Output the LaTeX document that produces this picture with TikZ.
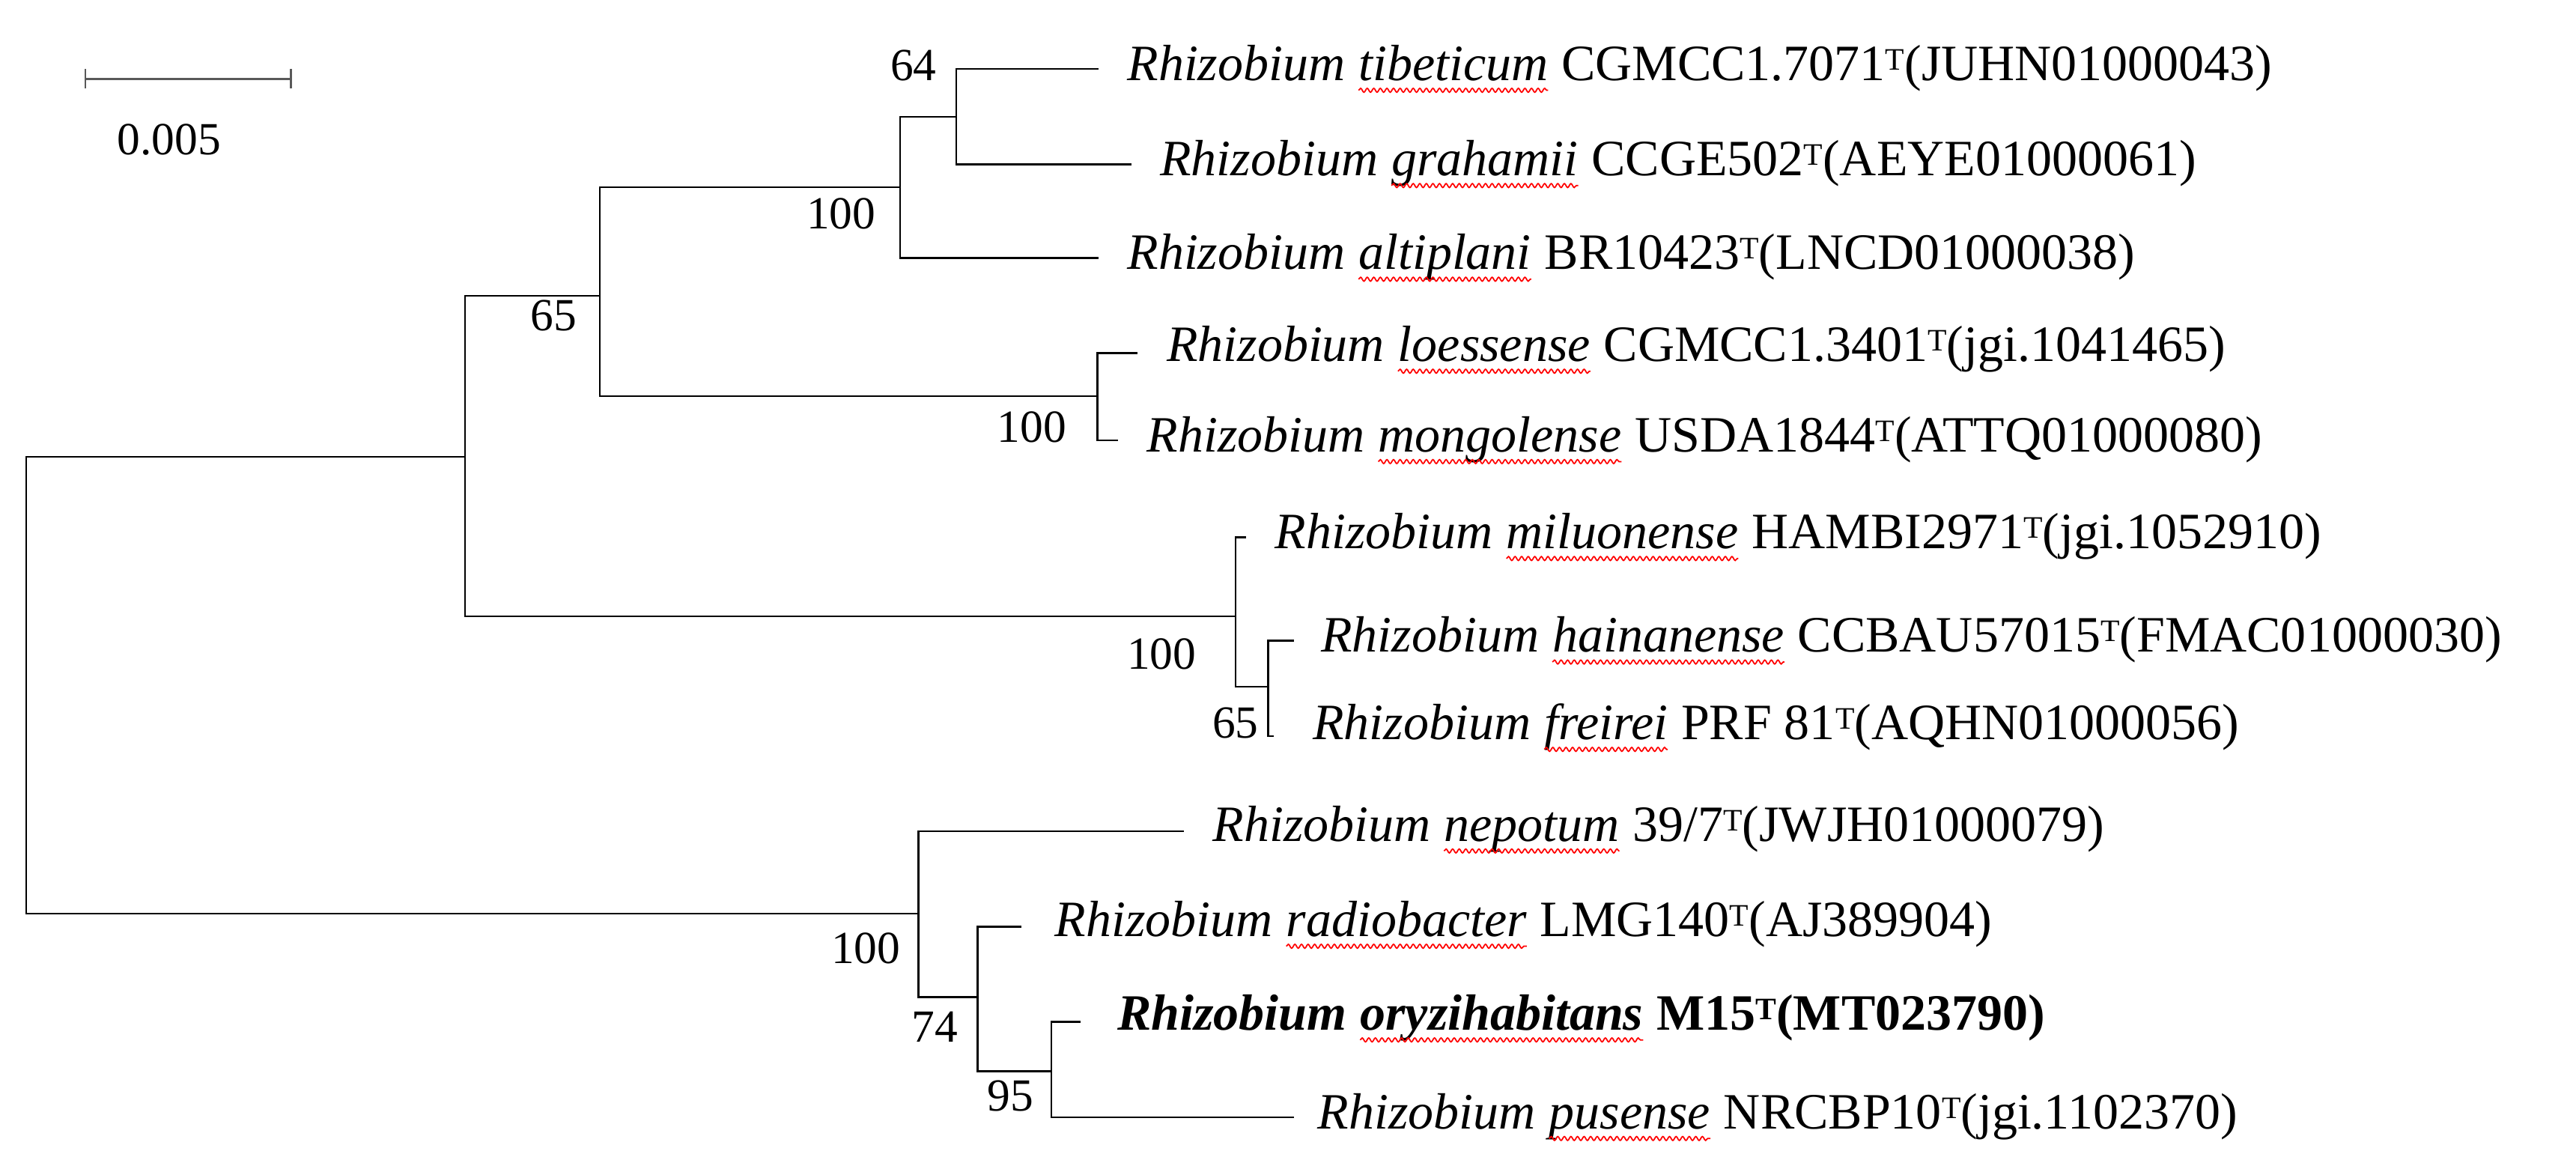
\documentclass[tikz,border=0pt]{standalone}
\usepackage{fontspec}
\setmainfont{Liberation Serif}
\usetikzlibrary{decorations.pathmorphing}
\newcommand\wv[1]{\tikz[baseline=(w.base)]{\node[inner sep=0pt,outer sep=0pt,anchor=base](w){#1};\draw[red,line width=0.8pt,decorate,decoration={snake,amplitude=1.2pt,segment length=4pt}]([yshift=-6pt]w.base west)--([yshift=-6pt]w.base east);}}
\newcommand\spc[3]{\textit{Rhizobium \wv{#1}} #2\raisebox{0.45ex}{\fontsize{19}{20}\selectfont T}(#3)}
\tikzset{br/.style={line width=1.1pt,line cap=rect},
 lf/.style={anchor=west,inner sep=0pt,font=\fontsize{31}{33}\selectfont},
 bs/.style={inner sep=0pt,font=\fontsize{28}{30}\selectfont}}
\begin{document}
\begin{tikzpicture}[x=1pt,y=-1pt]
\useasboundingbox (0,0) rectangle (1568,704);
\coordinate (R) at (16,556);
\coordinate (A) at (283,278);
\coordinate (B) at (365,180);
\coordinate (C) at (548,114);
\coordinate (D) at (582,71);
\coordinate (E) at (668,241);
\coordinate (F) at (752,375);
\coordinate (G) at (772,418);
\coordinate (H) at (559,556);
\coordinate (I) at (595,607);
\coordinate (J) at (640,652);
\coordinate (l1) at (668,42);
\coordinate (l2) at (688,100);
\coordinate (l3) at (668,157);
\coordinate (l4) at (692,215);
\coordinate (l5) at (680,268);
\coordinate (l6) at (758,327);
\coordinate (l7) at (787,390);
\coordinate (l8) at (775,448);
\coordinate (l9) at (720,506);
\coordinate (l10) at (621,564);
\coordinate (l11) at (657,622);
\coordinate (l12) at (787,680);
\draw[br] (A) -- (R|-A) -- (R) -- (H);
\draw[br] (B) -- (A|-B) -- (A|-F) -- (F);
\draw[br] (B) -- (B|-C) -- (C) (B) -- (B|-E) -- (E);
\draw[br] (C|-D) -- (C|-l3) -- (l3) (C|-D) -- (D);
\draw[br] (D|-l1) -- (l1) (D|-l1) -- (D|-l2) -- (l2);
\draw[br] (E|-l4) -- (l4) (E|-l4) -- (E|-l5) -- (l5);
\draw[br] (F) -- (F|-l6) -- (l6) (F) -- (F|-G) -- (G);
\draw[br] (G|-l7) -- (l7) (G|-l7) -- (G|-l8) -- (l8);
\draw[br] (H|-l9) -- (l9) (H|-l9) -- (H|-I) -- (I);
\draw[br] (I|-l10) -- (l10) (I|-l10) -- (I|-J) -- (J);
\draw[br] (J|-l11) -- (l11) (J|-l11) -- (J|-l12) -- (l12);
\node[lf] (t1) at (686,42) {\spc{tibeticum}{CGMCC1.7071}{JUHN01000043}};
\node[lf] (t2) at (706,100) {\spc{grahamii}{CCGE502}{AEYE01000061}};
\node[lf] (t3) at (686,157) {\spc{altiplani}{BR10423}{LNCD01000038}};
\node[lf] (t4) at (710,213) {\spc{loessense}{CGMCC1.3401}{jgi.1041465}};
\node[lf] (t5) at (698,268) {\spc{mongolense}{USDA1844}{ATTQ01000080}};
\node[lf] (t6) at (776,327) {\spc{miluonense}{HAMBI2971}{jgi.1052910}};
\node[lf] (t7) at (804,390) {\spc{hainanense}{CCBAU57015}{FMAC01000030}};
\node[lf] (t8) at (799,443) {\spc{freirei}{PRF 81}{AQHN01000056}};
\node[lf] (t9) at (738,505) {\spc{nepotum}{39/7}{JWJH01000079}};
\node[lf] (t10) at (642,563) {\spc{radiobacter}{LMG140}{AJ389904}};
\node[lf] (t11) at (680,620) {\bfseries\spc{oryzihabitans}{M15}{MT023790}};
\node[lf] (t12) at (802,680) {\spc{pusense}{NRCBP10}{jgi.1102370}};
\node[bs] (b1) at (556,40) {64};
\node[bs] (b2) at (512,130) {100};
\node[bs] (b3) at (337,192) {65};
\node[bs] (b4) at (628,260) {100};
\node[bs] (b5) at (707,398) {100};
\node[bs] (b6) at (752,440) {65};
\node[bs] (b7) at (527,577) {100};
\node[bs] (b8) at (569,625) {74};
\node[bs] (b9) at (615,667) {95};
\coordinate (s1) at (52,48);
\coordinate (s2) at (177,48);
\draw[line width=1.1pt,gray!70!black] (s1) -- (s2) ([yshift=-6pt]s1) -- ([yshift=6pt]s1) ([yshift=-6pt]s2) -- ([yshift=6pt]s2);
\node[bs] (sl) at (103,85) {0.005};
\end{tikzpicture}
\end{document}
